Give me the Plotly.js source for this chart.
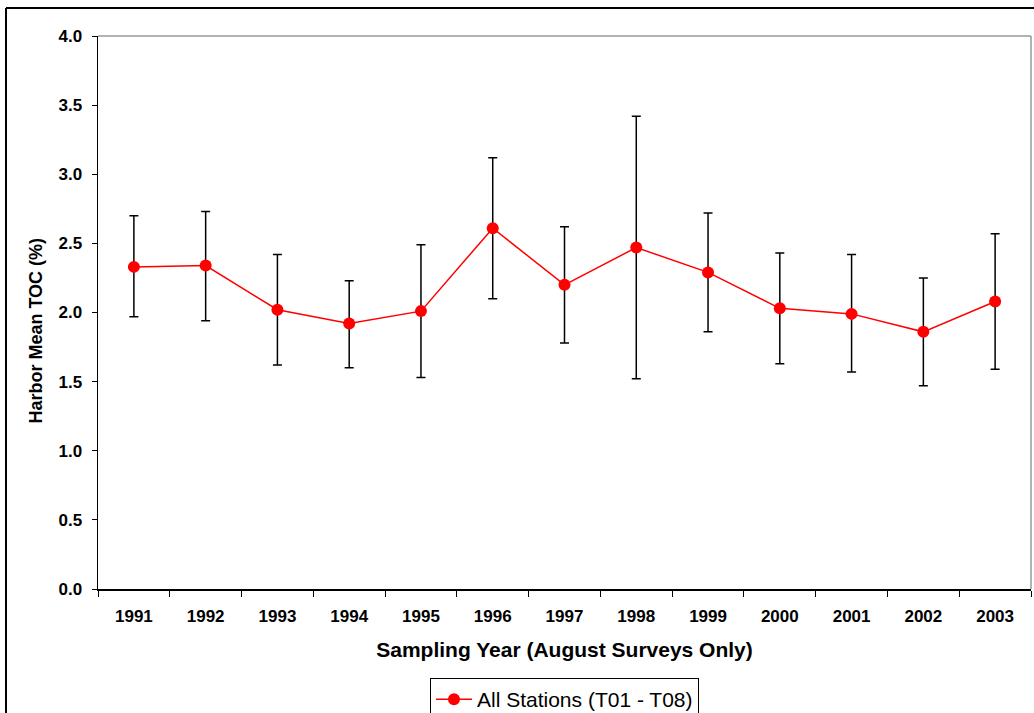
<!DOCTYPE html>
<html>
<head>
<meta charset="utf-8">
<script src="https://cdn.plot.ly/plotly-3.0.1.min.js"></script>
<style>
html,body{margin:0;padding:0;background:#fff;}
#chart{width:1034px;height:713px;}
</style>
</head>
<body>
<div id="chart"></div>
<script>
const years = ["1991","1992","1993","1994","1995","1996","1997","1998","1999","2000","2001","2002","2003"];
const meanTOC = [2.33, 2.34, 2.02, 1.92, 2.01, 2.61, 2.20, 2.47, 2.29, 2.03, 1.99, 1.86, 2.08];
const upperTOC = [2.70, 2.73, 2.42, 2.23, 2.49, 3.12, 2.62, 3.42, 2.72, 2.43, 2.42, 2.25, 2.57];
const lowerTOC = [1.97, 1.94, 1.62, 1.60, 1.53, 2.10, 1.78, 1.52, 1.86, 1.63, 1.57, 1.47, 1.59];
const seriesName = "All Stations (T01 - T08)";
const xTitle = "Sampling Year (August Surveys Only)";
const yTitle = "Harbor Mean TOC (%)";

const errPlus = upperTOC.map((u, i) => +(u - meanTOC[i]).toFixed(3));
const errMinus = lowerTOC.map((l, i) => +(meanTOC[i] - l).toFixed(3));

const font = "Liberation Sans, Arial, sans-serif";

const trace = {
  type: "scatter",
  mode: "lines+markers",
  x: years,
  y: meanTOC,
  name: seriesName,
  line: {color: "#ff0000", width: 1.5},
  marker: {color: "#ff0000", size: 12, symbol: "circle"},
  error_y: {
    type: "data",
    symmetric: false,
    array: errPlus,
    arrayminus: errMinus,
    color: "#000000",
    thickness: 1.5,
    width: 4.5
  },
  showlegend: true
};

const layout = {
  width: 1034,
  height: 713,
  margin: {l: 98, r: 3, t: 36, b: 124, autoexpand: false},
  paper_bgcolor: "#ffffff",
  plot_bgcolor: "#ffffff",
  font: {family: font, color: "#000"},
  showlegend: true,
  legend: {
    x: 0.5, xanchor: "center",
    xref: "paper",
    yref: "container",
    y: 0.049, yanchor: "top",
    orientation: "h",
    bordercolor: "#000",
    borderwidth: 1,
    font: {family: font, size: 21, color: "#000"},
    itemwidth: 36
  },
  xaxis: {
    type: "category",
    range: [-0.5, 12.5],
    autorange: false,
    automargin: false,
    tickson: "boundaries",
    ticks: "outside",
    ticklen: 6,
    tickcolor: "#000",
    tickwidth: 1,
    showline: true,
    linecolor: "#000",
    linewidth: 1.5,
    showgrid: false,
    zeroline: false,
    tickfont: {family: font, size: 17, color: "#000", weight: "bold"},
    ticklabelstandoff: 11,
    title: {text: "<b>" + xTitle + "</b>", font: {family: font, size: 21, color: "#000"}, standoff: 17}
  },
  yaxis: {
    range: [0, 4],
    autorange: false,
    automargin: false,
    dtick: 0.5,
    tickformat: ".1f",
    ticks: "outside",
    ticklen: 5,
    tickcolor: "#000",
    tickwidth: 1,
    showline: true,
    linecolor: "#000",
    linewidth: 1.5,
    showgrid: false,
    zeroline: false,
    tickfont: {family: font, size: 17, color: "#000", weight: "bold"},
    ticklabelstandoff: 6
  },
  annotations: [
    {text: "<b>" + yTitle + "</b>", xref: "paper", yref: "paper", x: -0.066, y: 0.468,
     xanchor: "center", yanchor: "middle", textangle: -90, showarrow: false,
     font: {family: font, size: 18, color: "#000"}}
  ],
  shapes: [
    {type: "line", xref: "paper", yref: "paper", x0: 0, x1: 1, y0: 1, y1: 1, line: {color: "#999999", width: 1.5}, layer: "below"},
    {type: "line", xref: "paper", yref: "paper", x0: 1, x1: 1, y0: 0, y1: 1, line: {color: "#999999", width: 1.5}, layer: "below"},
    {type: "line", xref: "paper", yref: "paper", x0: -0.0986, x1: 1.2, y0: 1.0506, y1: 1.0506, line: {color: "#000", width: 2}},
    {type: "line", xref: "paper", yref: "paper", x0: -0.0986, x1: -0.0986, y0: 1.0506, y1: -0.4, line: {color: "#000", width: 2}}
  ]
};

Plotly.newPlot("chart", [trace], layout, {displayModeBar: false, staticPlot: true});
</script>
</body>
</html>
